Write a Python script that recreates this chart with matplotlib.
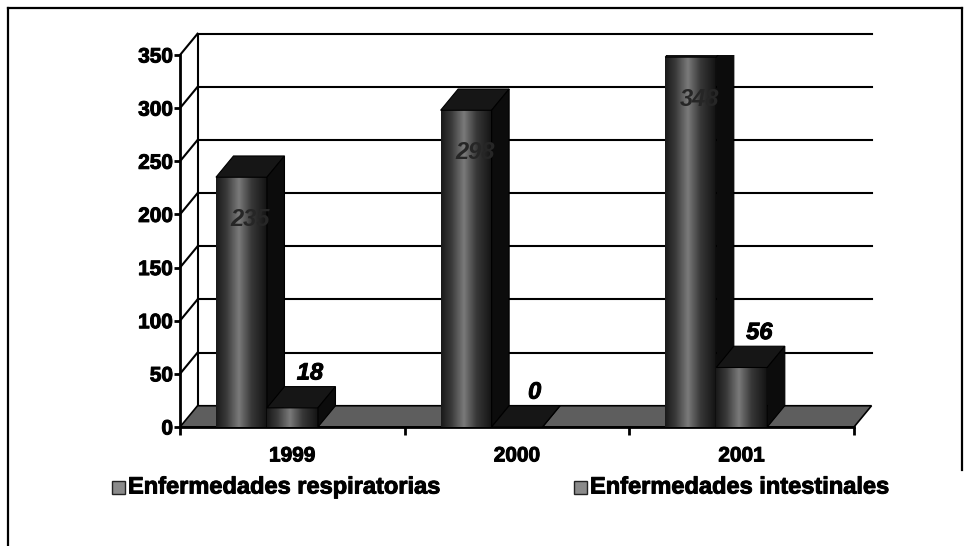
import numpy as np
import matplotlib.pyplot as plt
import matplotlib.patheffects as pe
from matplotlib.patches import Polygon, Rectangle
from matplotlib.colors import LinearSegmentedColormap
from matplotlib.lines import Line2D

# data
years = ['1999', '2000', '2001']
series_names = ['Enfermedades respiratorias', 'Enfermedades intestinales']
respiratorias = [235, 298, 348]
intestinales = [18, 0, 56]
y_ticks = [0, 50, 100, 150, 200, 250, 300, 350]

plt.rcParams['font.family'] = ['Liberation Sans', 'DejaVu Sans']

W, H = 969, 546
fig = plt.figure(figsize=(W / 100, H / 100), dpi=100)
ax = fig.add_axes([180 / W, 1 - 427 / H, 674 / W, 372 / H])
ax.patch.set_alpha(0)

heavy = [pe.withStroke(linewidth=0.7, foreground='black')]  # scanned text looks fatter

dx, dy = 0.078, 20     # fake 3d depth (x units, y units)
bw = 0.227             # bar width
offs = [-0.34, -0.113] # bar offsets inside each category
x = np.arange(len(years))

# back wall + left wall grid lines
for t in y_ticks[1:]:
    ax.plot([-0.5 + dx, 2.5 + dx], [t + dy, t + dy], color='black', lw=1.5,
            clip_on=False, zorder=1)
    ax.plot([-0.5, -0.5 + dx], [t, t + dy], color='black', lw=1.5,
            clip_on=False, zorder=1)
ax.plot([-0.5 + dx, -0.5 + dx], [dy, y_ticks[-1] + dy], color='black', lw=1.5,
        clip_on=False, zorder=1)

# floor
floor = Polygon([(-0.5, 0), (2.5, 0), (2.5 + dx, dy), (-0.5 + dx, dy)],
                closed=True, fc='#5e5e5e', ec='black', lw=1.2,
                clip_on=False, zorder=2)
ax.add_patch(floor)

# shading for the bar fronts
cm = LinearSegmentedColormap.from_list(
    'front', [(0, '#1a1a1a'), (0.2, '#3a3a3a'), (0.45, '#7a7a7a'),
              (0.7, '#383838'), (1, '#141414')])
grad = np.linspace(0, 1, 64).reshape(1, -1)

for s, vals in enumerate([respiratorias, intestinales]):
    z = 3 + s
    bars = ax.bar(x + offs[s], vals, width=bw, align='edge', color='#333333',
                  lw=0, zorder=z)
    for rect, v in zip(bars, vals):
        x0 = rect.get_x()
        x1 = x0 + bw
        if v > 0:
            im = ax.imshow(grad, extent=(x0, x1, 0, v), aspect='auto', cmap=cm,
                           origin='lower', zorder=z + 0.1)
            im.set_clip_path(rect)
        top = Polygon([(x0, v), (x1, v), (x1 + dx, v + dy), (x0 + dx, v + dy)],
                      closed=True, fc='#161616', ec='black', lw=0.8, zorder=z + 0.2)
        side = Polygon([(x1, 0), (x1 + dx, dy), (x1 + dx, v + dy), (x1, v)],
                       closed=True, fc='#0c0c0c', ec='black', lw=0.8, zorder=z + 0.2)
        ax.add_patch(top)
        ax.add_patch(side)
        if s == 1:
            ax.text(x0 + bw / 2 + dx, v + dy + 2, str(v), ha='center', va='bottom',
                    fontsize=17, fontstyle='italic', fontweight='bold', zorder=10,
                    path_effects=heavy)
        else:
            # these labels sit on the dark bar and are barely readable
            ax.text(x0 + bw / 2 + dx / 2, v - 40, str(v), ha='center', va='center',
                    fontsize=17, fontstyle='italic', fontweight='bold',
                    color='#262626', zorder=z + 0.3)

ax.set_xlim(-0.5, 2.5)
ax.set_ylim(0, 350)

ax.set_yticks(y_ticks)
ax.tick_params(axis='y', length=4, width=2, pad=1, labelsize=15)
ax.set_xticks(x, years)
ax.set_xticks([-0.5, 0.5, 1.5, 2.5], minor=True)
ax.tick_params(axis='x', which='major', length=0, pad=14, labelsize=15)
ax.tick_params(axis='x', which='minor', length=6, width=2)
for lab in ax.get_xticklabels() + ax.get_yticklabels():
    lab.set_fontweight('bold')
    lab.set_path_effects(heavy)
for sp in ['top', 'right']:
    ax.spines[sp].set_visible(False)
for sp in ['left', 'bottom']:
    ax.spines[sp].set_linewidth(2)

# legend drawn by hand below the axis
for i, name in enumerate(series_names):
    lx = [112, 574][i]
    fig.patches.append(Rectangle((lx / W, 1 - 494 / H), 13 / W, 13 / H,
                                 transform=fig.transFigure, fc='#8a8a8a',
                                 ec='#222222', lw=1))
    fig.text((lx + 16) / W, 1 - 487 / H, name, fontsize=17, fontweight='bold',
             va='center', path_effects=heavy)

# frame around the chart
fig.add_artist(Line2D([8 / W, 8 / W], [0, 1 - 8 / H], color='black', lw=1.6))
fig.add_artist(Line2D([8 / W, 962 / W], [1 - 8 / H, 1 - 8 / H], color='black', lw=1.6))
fig.add_artist(Line2D([962 / W, 962 / W], [1 - 8 / H, 1 - 470 / H], color='black', lw=1.6))

fig.savefig('out.png', dpi=100)
